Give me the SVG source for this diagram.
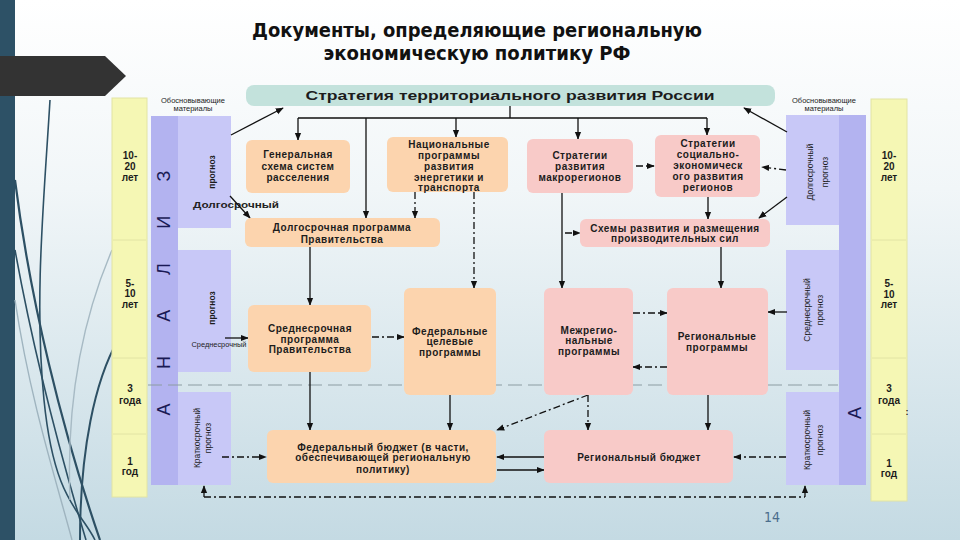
<svg xmlns="http://www.w3.org/2000/svg" width="960" height="540" viewBox="0 0 960 540">
<defs>
<linearGradient id="bg" x1="0" y1="0" x2="0" y2="1">
<stop offset="0" stop-color="#ffffff"/>
<stop offset="0.35" stop-color="#f1f6f8"/>
<stop offset="1" stop-color="#c4dae3"/>
</linearGradient>
<marker id="ah" viewBox="0 0 10 10" refX="9" refY="5" markerWidth="8" markerHeight="8" markerUnits="userSpaceOnUse" orient="auto">
<path d="M0,1 L10,5 L0,9 z" fill="#111"/>
</marker>
<style>
.t{font-family:"Liberation Sans",Arial,sans-serif;font-weight:bold;font-size:10px;fill:#1c1c1c;text-anchor:middle;letter-spacing:0.5px}
.y{font-family:"Liberation Sans",Arial,sans-serif;font-weight:bold;font-size:10px;fill:#1c1c1c;text-anchor:middle}
.s{font-family:"Liberation Sans",Arial,sans-serif;font-size:8.5px;fill:#1c1c1c;text-anchor:middle}
.sm{font-family:"Liberation Sans",Arial,sans-serif;font-size:7.5px;fill:#1c1c1c;text-anchor:middle}
.big{font-family:"Liberation Sans",Arial,sans-serif;font-size:18px;fill:#1a1a55;text-anchor:middle}
.or{fill:#fcd4ae}
.pk{fill:#f8cac8}
.yl{fill:#f5f7b4;stroke:#e2e4a4;stroke-width:1}
.pd{fill:#b3b3f0}
.pl{fill:#c8c8f7}
.c{stroke:#111;stroke-width:1.3;fill:none}
.dd{stroke-dasharray:7 3 2 3}
.deco{fill:none;stroke:#2d5064}
</style>
</defs>

<rect width="960" height="540" fill="url(#bg)"/>
<rect x="0" y="0" width="15" height="540" fill="#2d5166"/>
<path class="deco" stroke-width="1.6" d="M50,100 C44,200 34,300 44,400 S80,510 95,540"/>
<path class="deco" stroke-width="2.2" d="M15,180 C30,300 62,430 100,540"/>
<path class="deco" stroke-width="1.6" d="M15,250 C35,360 62,460 86,540"/>
<path class="deco" stroke-width="2" d="M118,340 C95,380 80,450 80,540"/>
<path fill="none" stroke="#a7bac4" stroke-width="1.4" d="M112,250 C82,320 66,400 70,500"/>
<path fill="none" stroke="#9fb4bf" stroke-width="1.4" d="M15,300 C30,400 56,480 72,540"/>
<polygon points="0,56 105,56 126,76 105,96 0,96" fill="#333333"/>

<g id="title">
<text x="477" y="37" textLength="450" lengthAdjust="spacingAndGlyphs" style="font-family:'Liberation Sans Narrow','DejaVu Sans Condensed','Liberation Sans',sans-serif;font-weight:bold;font-size:20px;fill:#111;text-anchor:middle">Документы, определяющие региональную</text>
<text x="477" y="60" textLength="307" lengthAdjust="spacingAndGlyphs" style="font-family:'Liberation Sans Narrow','DejaVu Sans Condensed','Liberation Sans',sans-serif;font-weight:bold;font-size:20px;fill:#111;text-anchor:middle">экономическую политику РФ</text>
</g>

<g id="left-scale">
<rect class="yl" x="112" y="98" width="35" height="399"/>
<line x1="113" y1="240" x2="146" y2="240" stroke="#e2e4a4"/>
<line x1="113" y1="358" x2="146" y2="358" stroke="#e2e4a4"/>
<line x1="113" y1="434" x2="146" y2="434" stroke="#e2e4a4"/>
<text class="y"><tspan x="130" y="159">10-</tspan><tspan x="130" y="170">20</tspan><tspan x="130" y="181">лет</tspan></text>
<text class="y"><tspan x="130" y="287">5-</tspan><tspan x="130" y="297">10</tspan><tspan x="130" y="308">лет</tspan></text>
<text class="y"><tspan x="130" y="392">3</tspan><tspan x="130" y="404">года</tspan></text>
<text class="y"><tspan x="130" y="465">1</tspan><tspan x="130" y="475">год</tspan></text>
</g>

<g id="left-analysis">
<rect class="pd" x="151" y="116" width="27" height="369"/>
<text class="big" transform="translate(170,293) rotate(-90)" textLength="245" lengthAdjust="spacing">АНАЛИЗ</text>
</g>

<g id="left-forecasts">
<text class="sm"><tspan x="193" y="103">Обосновывающие</tspan><tspan x="193" y="111">материалы</tspan></text>
<rect class="pl" x="178" y="116" width="53" height="112"/>
<text class="s" style="font-weight:bold" transform="translate(215,172) rotate(-90)">прогноз</text>
<text x="236" y="208" textLength="86" lengthAdjust="spacingAndGlyphs" style="font-family:'Liberation Sans',sans-serif;font-weight:bold;font-size:9px;fill:#222;text-anchor:middle">Долгосрочный</text>
<rect class="pl" x="178" y="250" width="53" height="122"/>
<text class="s" style="font-weight:bold" transform="translate(215,308) rotate(-90)">прогноз</text>
<text x="219" y="347" textLength="55" lengthAdjust="spacingAndGlyphs" style="font-family:'Liberation Sans',sans-serif;font-size:8px;fill:#222;text-anchor:middle">Среднесрочный</text>
<rect class="pl" x="178" y="392" width="53" height="93"/>
<text class="s" transform="translate(200,438) rotate(-90)">Краткосрочный</text>
<text class="s" transform="translate(211,438) rotate(-90)">прогноз</text>
</g>

<g id="right-forecasts">
<text class="sm"><tspan x="824" y="103">Обосновывающие</tspan><tspan x="824" y="111">материалы</tspan></text>
<rect class="pl" x="786" y="115" width="53" height="110"/>
<text class="s" transform="translate(813,172) rotate(-90)">Долгосрочный</text>
<text class="s" transform="translate(828,172) rotate(-90)">прогноз</text>
<rect class="pl" x="786" y="250" width="53" height="120"/>
<text class="s" transform="translate(810,310) rotate(-90)">Среднесрочный</text>
<text class="s" transform="translate(823,310) rotate(-90)">прогноз</text>
<rect class="pl" x="786" y="392" width="53" height="93"/>
<text class="s" transform="translate(810,440) rotate(-90)">Краткосрочный</text>
<text class="s" transform="translate(823,440) rotate(-90)">прогноз</text>
</g>

<g id="right-analysis">
<rect class="pd" x="839" y="115" width="27" height="370"/>
<text class="big" transform="translate(861,413) rotate(-90)">А</text>
</g>

<g id="right-scale">
<rect class="yl" x="871" y="99" width="36" height="402"/>
<line x1="872" y1="240" x2="906" y2="240" stroke="#e2e4a4"/>
<line x1="872" y1="358" x2="906" y2="358" stroke="#e2e4a4"/>
<line x1="872" y1="434" x2="906" y2="434" stroke="#e2e4a4"/>
<text class="y"><tspan x="889" y="159">10-</tspan><tspan x="889" y="170">20</tspan><tspan x="889" y="181">лет</tspan></text>
<text class="y"><tspan x="889" y="287">5-</tspan><tspan x="889" y="298">10</tspan><tspan x="889" y="308">лет</tspan></text>
<text class="y"><tspan x="889" y="392">3</tspan><tspan x="889" y="404">года</tspan></text>
<text class="y"><tspan x="889" y="467">1</tspan><tspan x="889" y="477">год</tspan></text>
<text x="907" y="415" style="font-family:'Liberation Sans',sans-serif;font-weight:bold;font-size:9px;fill:#222;text-anchor:middle">:</text>
</g>

<line x1="148" y1="385" x2="838" y2="385" stroke="#8c9ca2" stroke-width="1" stroke-dasharray="14 6"/>

<g id="connectors">
<path class="c" d="M510,106 V118 M298,118 H707"/>
<path class="c" marker-end="url(#ah)" d="M298,118 V140"/>
<path class="c" marker-end="url(#ah)" d="M366,118 V218"/>
<path class="c" marker-end="url(#ah)" d="M456,118 V137"/>
<path class="c" marker-end="url(#ah)" d="M578,118 V139"/>
<path class="c" marker-end="url(#ah)" d="M707,118 V135"/>
<path class="c dd" marker-end="url(#ah)" d="M415,192 V218"/>
<path class="c dd" marker-end="url(#ah)" d="M474,192 V288"/>
<path class="c" marker-end="url(#ah)" d="M562,193 V288"/>
<path class="c dd" marker-end="url(#ah)" d="M636,166 H654"/>
<path class="c dd" marker-end="url(#ah)" d="M565,233 H580"/>
<path class="c" marker-end="url(#ah)" d="M708,197 V219"/>
<path class="c dd" marker-end="url(#ah)" d="M786,170 L762,167"/>
<path class="c" marker-end="url(#ah)" d="M787,132 L744,108"/>
<path class="c" marker-end="url(#ah)" d="M787,197 L759,218"/>
<path class="c" marker-end="url(#ah)" d="M231,135 L283,108"/>
<path class="c" marker-end="url(#ah)" d="M230,196 L250,218"/>
<path class="c" marker-end="url(#ah)" d="M310,247 V305"/>
<path class="c" marker-end="url(#ah)" d="M225,338 H248"/>
<path class="c dd" marker-end="url(#ah)" d="M372,337 H404"/>
<path class="c dd" marker-end="url(#ah)" d="M633,313 H667"/>
<path class="c dd" marker-end="url(#ah)" d="M667,367 H633"/>
<path class="c" marker-end="url(#ah)" d="M721,247 V288"/>
<path class="c" marker-end="url(#ah)" d="M787,312 H768"/>
<path class="c" marker-end="url(#ah)" d="M310,372 V430"/>
<path class="c" marker-end="url(#ah)" d="M450,395 V430"/>
<path class="c dd" marker-end="url(#ah)" d="M588,395 L497,430"/>
<path class="c dd" marker-end="url(#ah)" d="M588,395 V430"/>
<path class="c" marker-end="url(#ah)" d="M708,395 V430"/>
<path class="c" marker-end="url(#ah)" d="M544,457 H497"/>
<path class="c" marker-end="url(#ah)" d="M497,470 H544"/>
<path class="c dd" marker-end="url(#ah)" d="M222,457 H266"/>
<path class="c dd" marker-end="url(#ah)" d="M786,457 H734"/>
<path class="c dd" d="M204,497 H805"/>
<path class="c" marker-end="url(#ah)" d="M204,497 V486"/>
<path class="c" marker-end="url(#ah)" d="M805,497 V486"/>
</g>

<g id="banner">
<rect x="246" y="85" width="529" height="21" rx="8" fill="#c3e2dc"/>
<text class="t" x="510" y="100" textLength="409" lengthAdjust="spacingAndGlyphs" style="font-size:13.5px;letter-spacing:0">Стратегия территориального развития России</text>
</g>

<g id="n-general">
<rect class="or" x="246" y="140" width="104" height="53" rx="6"/>
<text class="t"><tspan x="298" y="158">Генеральная</tspan><tspan x="298" y="170">схема систем</tspan><tspan x="298" y="181">расселения</tspan></text>
</g>
<g id="n-national">
<rect class="or" x="387" y="137" width="121" height="55" rx="6"/>
<text class="t"><tspan x="449" y="148">Национальные</tspan><tspan x="449" y="159">программы</tspan><tspan x="449" y="169.5">развития</tspan><tspan x="449" y="180.5">энергетики и</tspan><tspan x="449" y="191">транспорта</tspan></text>
</g>
<g id="n-macro">
<rect class="pk" x="527" y="139" width="106" height="54" rx="6"/>
<text class="t"><tspan x="580" y="158.5">Стратегии</tspan><tspan x="580" y="169.5">развития</tspan><tspan x="580" y="180.5">макрорегионов</tspan></text>
</g>
<g id="n-socio">
<rect class="pk" x="655" y="135" width="105" height="62" rx="6"/>
<text class="t"><tspan x="708" y="146.5">Стратегии</tspan><tspan x="708" y="157.5">социально-</tspan><tspan x="708" y="168.5">экономическ</tspan><tspan x="708" y="179.5">ого развития</tspan><tspan x="708" y="190.5">регионов</tspan></text>
</g>
<g id="n-longterm">
<rect class="or" x="245" y="218" width="195" height="29" rx="6"/>
<text class="t"><tspan x="342" y="230.5">Долгосрочная программа</tspan><tspan x="342" y="242.5">Правительства</tspan></text>
</g>
<g id="n-schemes">
<rect class="pk" x="580" y="219" width="190" height="28" rx="6"/>
<text class="t"><tspan x="675" y="231.5">Схемы развития и размещения</tspan><tspan x="675" y="242">производительных сил</tspan></text>
</g>
<g id="n-midterm">
<rect class="or" x="248" y="305" width="123" height="67" rx="6"/>
<text class="t"><tspan x="310" y="331.5">Среднесрочная</tspan><tspan x="310" y="342.5">программа</tspan><tspan x="310" y="353">Правительства</tspan></text>
</g>
<g id="n-fedtarget">
<rect class="or" x="404" y="288" width="92" height="107" rx="6"/>
<text class="t"><tspan x="450" y="334.5">Федеральные</tspan><tspan x="450" y="345">целевые</tspan><tspan x="450" y="355.5">программы</tspan></text>
</g>
<g id="n-interreg">
<rect class="pk" x="544" y="288" width="89" height="107" rx="6"/>
<text class="t"><tspan x="589" y="333.5">Межрегио-</tspan><tspan x="589" y="344">нальные</tspan><tspan x="589" y="354.5">программы</tspan></text>
</g>
<g id="n-regprog">
<rect class="pk" x="667" y="288" width="101" height="107" rx="6"/>
<text class="t"><tspan x="717" y="339.5">Региональные</tspan><tspan x="717" y="350.5">программы</tspan></text>
</g>
<g id="n-fedbudget">
<rect class="or" x="267" y="430" width="229" height="53" rx="6"/>
<text class="t"><tspan x="383" y="450.5">Федеральный бюджет (в части,</tspan><tspan x="383" y="461">обеспечивающей региональную</tspan><tspan x="383" y="472.5">политику)</tspan></text>
</g>
<g id="n-regbudget">
<rect class="pk" x="544" y="430" width="189" height="53" rx="6"/>
<text class="t"><tspan x="639" y="460.5">Региональный бюджет</tspan></text>
</g>

<text x="772" y="522" style="font-family:'Liberation Sans Narrow','DejaVu Sans Condensed','Liberation Sans',sans-serif;font-size:14px;fill:#4b6d8c;text-anchor:middle">14</text>
</svg>
